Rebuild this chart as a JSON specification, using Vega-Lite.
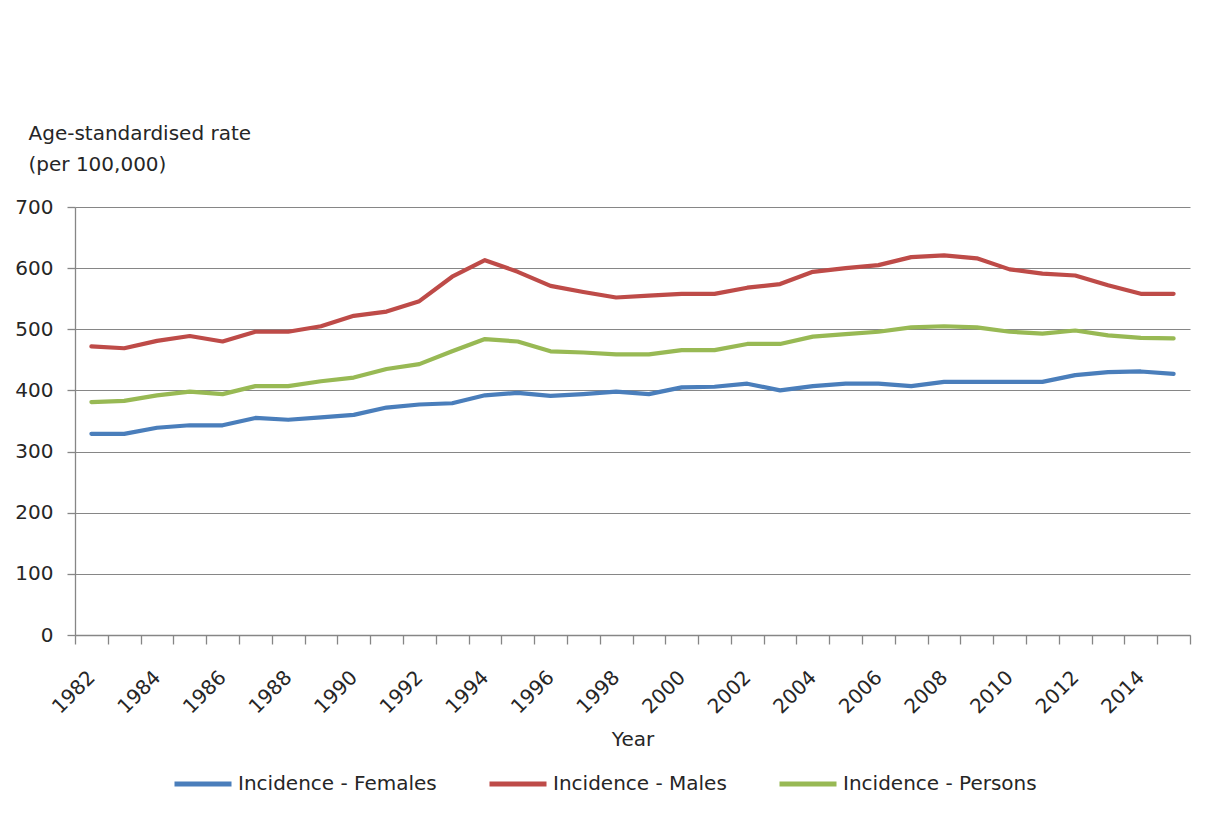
{
  "$schema": "https://vega.github.io/schema/vega-lite/v6.json",
  "autosize": "none",
  "width": 1115,
  "height": 428,
  "padding": {"left": 75, "top": 207, "right": 15, "bottom": 183},
  "background": "white",
  "config": {
    "view": {"stroke": null},
    "font": "DejaVu Sans",
    "axis": {
      "labelFont": "DejaVu Sans",
      "labelFontSize": 20,
      "labelColor": "#262626",
      "titleFont": "DejaVu Sans",
      "titleFontSize": 20,
      "titleFontWeight": "normal",
      "titleColor": "#262626",
      "domainColor": "#868686",
      "domainWidth": 1.3,
      "tickColor": "#868686",
      "tickWidth": 1.3,
      "gridColor": "#868686",
      "gridWidth": 1.2
    },
    "legend": {
      "labelFont": "DejaVu Sans",
      "labelFontSize": 20,
      "labelColor": "#262626"
    }
  },
  "data": {
    "values": [
      {"year": 1982, "series": "Incidence - Females", "rate": 329},
      {"year": 1983, "series": "Incidence - Females", "rate": 329},
      {"year": 1984, "series": "Incidence - Females", "rate": 339},
      {"year": 1985, "series": "Incidence - Females", "rate": 343},
      {"year": 1986, "series": "Incidence - Females", "rate": 343},
      {"year": 1987, "series": "Incidence - Females", "rate": 355},
      {"year": 1988, "series": "Incidence - Females", "rate": 352},
      {"year": 1989, "series": "Incidence - Females", "rate": 356},
      {"year": 1990, "series": "Incidence - Females", "rate": 360},
      {"year": 1991, "series": "Incidence - Females", "rate": 372},
      {"year": 1992, "series": "Incidence - Females", "rate": 377},
      {"year": 1993, "series": "Incidence - Females", "rate": 379},
      {"year": 1994, "series": "Incidence - Females", "rate": 392},
      {"year": 1995, "series": "Incidence - Females", "rate": 396},
      {"year": 1996, "series": "Incidence - Females", "rate": 391},
      {"year": 1997, "series": "Incidence - Females", "rate": 394},
      {"year": 1998, "series": "Incidence - Females", "rate": 398},
      {"year": 1999, "series": "Incidence - Females", "rate": 394},
      {"year": 2000, "series": "Incidence - Females", "rate": 405},
      {"year": 2001, "series": "Incidence - Females", "rate": 406},
      {"year": 2002, "series": "Incidence - Females", "rate": 411},
      {"year": 2003, "series": "Incidence - Females", "rate": 400},
      {"year": 2004, "series": "Incidence - Females", "rate": 407},
      {"year": 2005, "series": "Incidence - Females", "rate": 411},
      {"year": 2006, "series": "Incidence - Females", "rate": 411},
      {"year": 2007, "series": "Incidence - Females", "rate": 407},
      {"year": 2008, "series": "Incidence - Females", "rate": 414},
      {"year": 2009, "series": "Incidence - Females", "rate": 414},
      {"year": 2010, "series": "Incidence - Females", "rate": 414},
      {"year": 2011, "series": "Incidence - Females", "rate": 414},
      {"year": 2012, "series": "Incidence - Females", "rate": 425},
      {"year": 2013, "series": "Incidence - Females", "rate": 430},
      {"year": 2014, "series": "Incidence - Females", "rate": 431},
      {"year": 2015, "series": "Incidence - Females", "rate": 427},
      {"year": 1982, "series": "Incidence - Males", "rate": 472},
      {"year": 1983, "series": "Incidence - Males", "rate": 469},
      {"year": 1984, "series": "Incidence - Males", "rate": 481},
      {"year": 1985, "series": "Incidence - Males", "rate": 489},
      {"year": 1986, "series": "Incidence - Males", "rate": 480},
      {"year": 1987, "series": "Incidence - Males", "rate": 496},
      {"year": 1988, "series": "Incidence - Males", "rate": 496},
      {"year": 1989, "series": "Incidence - Males", "rate": 505},
      {"year": 1990, "series": "Incidence - Males", "rate": 522},
      {"year": 1991, "series": "Incidence - Males", "rate": 529},
      {"year": 1992, "series": "Incidence - Males", "rate": 546},
      {"year": 1993, "series": "Incidence - Males", "rate": 586},
      {"year": 1994, "series": "Incidence - Males", "rate": 613},
      {"year": 1995, "series": "Incidence - Males", "rate": 594},
      {"year": 1996, "series": "Incidence - Males", "rate": 571},
      {"year": 1997, "series": "Incidence - Males", "rate": 561},
      {"year": 1998, "series": "Incidence - Males", "rate": 552},
      {"year": 1999, "series": "Incidence - Males", "rate": 555},
      {"year": 2000, "series": "Incidence - Males", "rate": 558},
      {"year": 2001, "series": "Incidence - Males", "rate": 558},
      {"year": 2002, "series": "Incidence - Males", "rate": 568},
      {"year": 2003, "series": "Incidence - Males", "rate": 574},
      {"year": 2004, "series": "Incidence - Males", "rate": 594},
      {"year": 2005, "series": "Incidence - Males", "rate": 600},
      {"year": 2006, "series": "Incidence - Males", "rate": 605},
      {"year": 2007, "series": "Incidence - Males", "rate": 618},
      {"year": 2008, "series": "Incidence - Males", "rate": 621},
      {"year": 2009, "series": "Incidence - Males", "rate": 616},
      {"year": 2010, "series": "Incidence - Males", "rate": 598},
      {"year": 2011, "series": "Incidence - Males", "rate": 591},
      {"year": 2012, "series": "Incidence - Males", "rate": 588},
      {"year": 2013, "series": "Incidence - Males", "rate": 572},
      {"year": 2014, "series": "Incidence - Males", "rate": 558},
      {"year": 2015, "series": "Incidence - Males", "rate": 558},
      {"year": 1982, "series": "Incidence - Persons", "rate": 381},
      {"year": 1983, "series": "Incidence - Persons", "rate": 383},
      {"year": 1984, "series": "Incidence - Persons", "rate": 392},
      {"year": 1985, "series": "Incidence - Persons", "rate": 398},
      {"year": 1986, "series": "Incidence - Persons", "rate": 394},
      {"year": 1987, "series": "Incidence - Persons", "rate": 407},
      {"year": 1988, "series": "Incidence - Persons", "rate": 407},
      {"year": 1989, "series": "Incidence - Persons", "rate": 415},
      {"year": 1990, "series": "Incidence - Persons", "rate": 421},
      {"year": 1991, "series": "Incidence - Persons", "rate": 435},
      {"year": 1992, "series": "Incidence - Persons", "rate": 443},
      {"year": 1993, "series": "Incidence - Persons", "rate": 464},
      {"year": 1994, "series": "Incidence - Persons", "rate": 484},
      {"year": 1995, "series": "Incidence - Persons", "rate": 480},
      {"year": 1996, "series": "Incidence - Persons", "rate": 464},
      {"year": 1997, "series": "Incidence - Persons", "rate": 462},
      {"year": 1998, "series": "Incidence - Persons", "rate": 459},
      {"year": 1999, "series": "Incidence - Persons", "rate": 459},
      {"year": 2000, "series": "Incidence - Persons", "rate": 466},
      {"year": 2001, "series": "Incidence - Persons", "rate": 466},
      {"year": 2002, "series": "Incidence - Persons", "rate": 476},
      {"year": 2003, "series": "Incidence - Persons", "rate": 476},
      {"year": 2004, "series": "Incidence - Persons", "rate": 488},
      {"year": 2005, "series": "Incidence - Persons", "rate": 492},
      {"year": 2006, "series": "Incidence - Persons", "rate": 496},
      {"year": 2007, "series": "Incidence - Persons", "rate": 503},
      {"year": 2008, "series": "Incidence - Persons", "rate": 505},
      {"year": 2009, "series": "Incidence - Persons", "rate": 503},
      {"year": 2010, "series": "Incidence - Persons", "rate": 496},
      {"year": 2011, "series": "Incidence - Persons", "rate": 493},
      {"year": 2012, "series": "Incidence - Persons", "rate": 498},
      {"year": 2013, "series": "Incidence - Persons", "rate": 490},
      {"year": 2014, "series": "Incidence - Persons", "rate": 486},
      {"year": 2015, "series": "Incidence - Persons", "rate": 485}
    ]
  },
  "mark": {"type": "line", "strokeWidth": 4.2, "strokeJoin": "round", "strokeCap": "round"},
  "encoding": {
    "x": {
      "field": "year",
      "type": "ordinal",
      "scale": {"type": "band", "paddingInner": 0, "paddingOuter": 0},
      "axis": {
        "title": "Year",
        "titleY": 110,
        "titleBaseline": "alphabetic",
        "tickBand": "extent",
        "tickSize": 9,
        "grid": false,
        "labelAngle": -45,
        "labelAlign": "right",
        "labelBaseline": "middle",
        "labelPadding": 30,
        "labelExpr": "datum.value % 2 == 0 ? datum.label : ''"
      }
    },
    "y": {
      "field": "rate",
      "type": "quantitative",
      "scale": {"domain": [0, 700], "nice": false},
      "axis": {
        "values": [0, 100, 200, 300, 400, 500, 600, 700],
        "title": ["Age-standardised rate", "(per 100,000)"],
        "titleAngle": 0,
        "titleAlign": "left",
        "titleBaseline": "alphabetic",
        "titleX": -47,
        "titleY": -68,
        "titleLineHeight": 31,
        "tickSize": 8,
        "labelPadding": 14,
        "grid": true
      }
    },
    "color": {
      "field": "series",
      "type": "nominal",
      "scale": {
        "domain": ["Incidence - Females", "Incidence - Males", "Incidence - Persons"],
        "range": ["#4A7EBB", "#BE4B48", "#98B954"]
      },
      "legend": {
        "title": null,
        "orient": "none",
        "direction": "horizontal",
        "legendX": 97,
        "legendY": 546,
        "symbolType": "stroke",
        "symbolSize": 3249,
        "symbolStrokeWidth": 5,
        "labelOffset": 4,
        "columnPadding": 42,
        "labelLimit": 400
      }
    }
  }
}
